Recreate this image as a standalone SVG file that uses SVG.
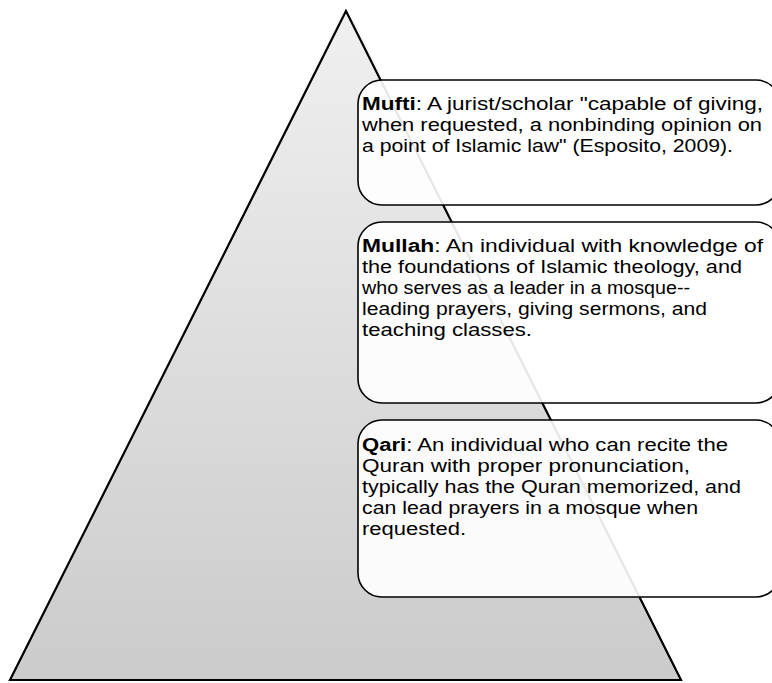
<svg xmlns="http://www.w3.org/2000/svg" width="772" height="683" viewBox="0 0 772 683">
<defs>
<linearGradient id="tri" x1="0" y1="0" x2="0" y2="1">
<stop offset="0" stop-color="#f0f0f0"/>
<stop offset="1" stop-color="#cbcbcb"/>
</linearGradient>
<style>
.box{fill:#ffffff;fill-opacity:0.9;stroke:#000;stroke-width:1.6}
.t{font-family:"Liberation Sans",Arimo,sans-serif;font-size:17.5px;fill:#000}
.b{font-weight:bold}
</style>
</defs>
<g id="pyramid">
<polygon points="346,11 681,680 10,680" fill="url(#tri)" stroke="#000" stroke-width="2.2" stroke-linejoin="miter"/>
</g>
<g id="connectors"></g>
<g id="mufti">
<rect class="box" x="358" y="80" width="422" height="125" rx="24"/>
<text class="t" x="362" y="110" textLength="401" lengthAdjust="spacingAndGlyphs"><tspan class="b">Mufti</tspan>: A jurist/scholar "capable of giving,</text>
<text class="t" x="362" y="131" textLength="400" lengthAdjust="spacingAndGlyphs">when requested, a nonbinding opinion on</text>
<text class="t" x="362" y="152" textLength="371" lengthAdjust="spacingAndGlyphs">a point of Islamic law" (Esposito, 2009).</text>
</g>
<g id="mullah">
<rect class="box" x="358" y="222" width="422" height="181" rx="24"/>
<text class="t" x="362" y="252" textLength="401" lengthAdjust="spacingAndGlyphs"><tspan class="b">Mullah</tspan>: An individual with knowledge of</text>
<text class="t" x="362" y="273" textLength="380" lengthAdjust="spacingAndGlyphs">the foundations of Islamic theology, and</text>
<text class="t" x="362" y="294" textLength="328" lengthAdjust="spacingAndGlyphs">who serves as a leader in a mosque--</text>
<text class="t" x="362" y="315" textLength="345" lengthAdjust="spacingAndGlyphs">leading prayers, giving sermons, and</text>
<text class="t" x="362" y="336" textLength="170" lengthAdjust="spacingAndGlyphs">teaching classes.</text>
</g>
<g id="qari">
<rect class="box" x="358" y="420" width="422" height="177" rx="24"/>
<text class="t" x="362" y="451" textLength="366" lengthAdjust="spacingAndGlyphs"><tspan class="b">Qari</tspan>: An individual who can recite the</text>
<text class="t" x="362" y="472" textLength="328" lengthAdjust="spacingAndGlyphs">Quran with proper pronunciation,</text>
<text class="t" x="362" y="493" textLength="379" lengthAdjust="spacingAndGlyphs">typically has the Quran memorized, and</text>
<text class="t" x="362" y="514" textLength="336" lengthAdjust="spacingAndGlyphs">can lead prayers in a mosque when</text>
<text class="t" x="362" y="535" textLength="104" lengthAdjust="spacingAndGlyphs">requested.</text>
</g>
</svg>
